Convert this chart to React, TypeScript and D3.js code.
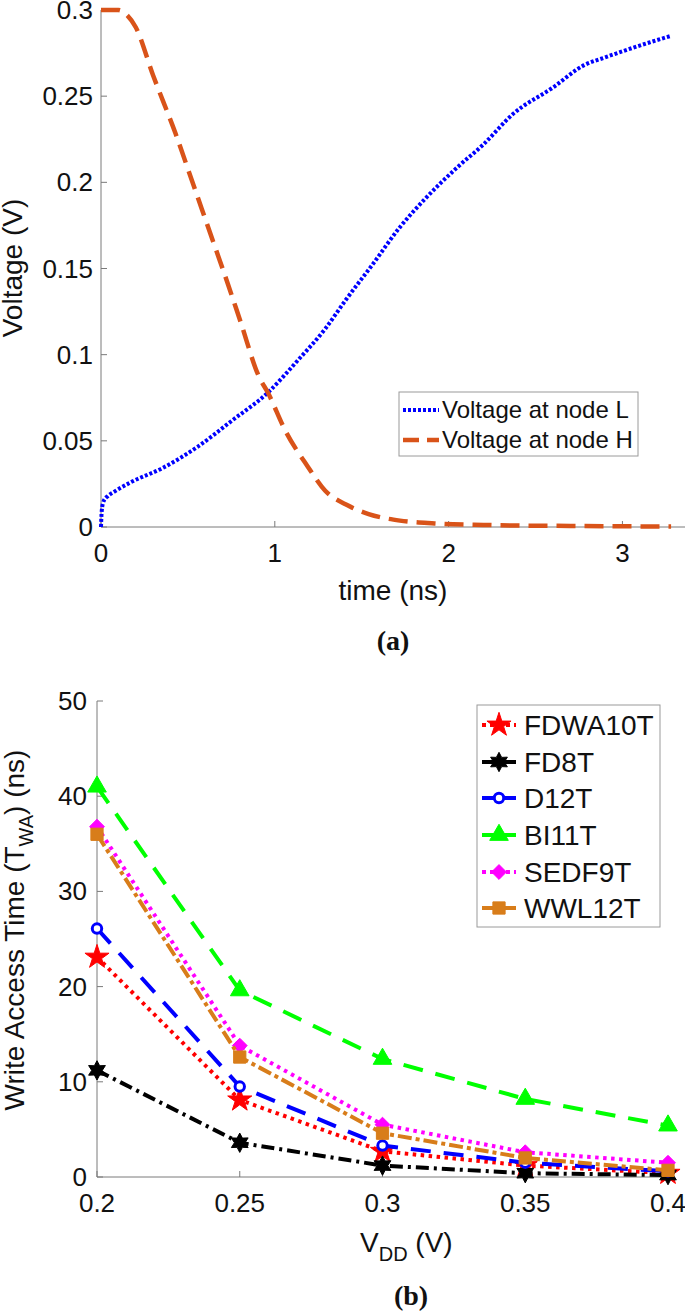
import React from "react";
import * as d3 from "d3";

// ---------- Chart (a) data ----------
const timeTicks = [0, 1, 2, 3];
const voltTicks = [0, 0.05, 0.1, 0.15, 0.2, 0.25, 0.3];
const voltTickLabels = ["0", "0.05", "0.1", "0.15", "0.2", "0.25", "0.3"];
const timeL = [0, 0.004, 0.015, 0.04, 0.075, 0.176, 0.35, 0.555, 0.757, 0.96, 1.135, 1.29, 1.41, 1.56, 1.72, 1.87, 2.05, 2.2, 2.37, 2.6, 2.78, 2.9, 3.0, 3.15, 3.28];
const voltL = [0, 0.009, 0.015, 0.018, 0.0204, 0.0262, 0.034, 0.0465, 0.062, 0.078, 0.097, 0.115, 0.132, 0.152, 0.174, 0.191, 0.2087, 0.222, 0.2396, 0.255, 0.268, 0.2725, 0.276, 0.281, 0.285];
const timeH = [0, 0.1, 0.15, 0.2, 0.3, 0.43, 0.53, 0.63, 0.73, 0.8, 0.91, 0.96, 1.06, 1.19, 1.29, 1.41, 1.54, 1.72, 1.92, 2.2, 2.7, 3.28];
const voltH = [0.3, 0.3, 0.297, 0.29, 0.262, 0.228, 0.199, 0.17, 0.141, 0.12, 0.087, 0.078, 0.056, 0.035, 0.021, 0.013, 0.0075, 0.0037, 0.0021, 0.0012, 0.0006, 0.0003];
const legendA = ["Voltage at node L", "Voltage at node H"];

// ---------- Chart (b) data ----------
const vddTicks = [0.2, 0.25, 0.3, 0.35, 0.4];
const vddTickLabels = ["0.2", "0.25", "0.3", "0.35", "0.4"];
const twaTicks = [0, 10, 20, 30, 40, 50];
const seriesNames = ["FDWA10T", "FD8T", "D12T", "BI11T", "SEDF9T", "WWL12T"];
const fdwa10t = [23.1, 8.1, 2.7, 1.2, 0.4];
const fd8t = [11.2, 3.6, 1.2, 0.4, 0.2];
const d12t = [26.1, 9.5, 3.3, 1.5, 0.6];
const bi11t = [41.0, 19.6, 12.4, 8.2, 5.4];
const sedf9t = [36.8, 13.8, 5.5, 2.6, 1.5];
const wwl12t = [36.0, 12.6, 4.6, 2.0, 0.7];

const FONT = "'Liberation Sans', Arial, Helvetica, sans-serif";
const AXIS = "#7a7a7a";

// hexagram symbol
const symbolHexagram = {
  draw(ctx: any, size: number) {
    const R = Math.sqrt(size / 1.6);
    const r = R * 0.55;
    for (let i = 0; i < 12; i++) {
      const a = -Math.PI / 2 + (i * Math.PI) / 6;
      const rr = i % 2 === 0 ? R : r;
      const x = rr * Math.cos(a), y = rr * Math.sin(a);
      if (i === 0) ctx.moveTo(x, y); else ctx.lineTo(x, y);
    }
    ctx.closePath();
  },
};

const styles = [
  { name: seriesNames[0], data: fdwa10t, color: "#FF0000", dash: "3.5,4.5", legDash: "4,4", sym: d3.symbolStar, size: 180, hollow: false },
  { name: seriesNames[1], data: fd8t, color: "#000000", dash: "13,5,3,5", legDash: "none", sym: symbolHexagram, size: 150, hollow: false },
  { name: seriesNames[2], data: d12t, color: "#0000FF", dash: "20,13", legDash: "none", sym: d3.symbolCircle, size: 70, hollow: true },
  { name: seriesNames[3], data: bi11t, color: "#00FF00", dash: "20,13", legDash: "none", sym: d3.symbolTriangle, size: 150, hollow: false },
  { name: seriesNames[4], data: sedf9t, color: "#FF00FF", dash: "3.5,4.5", legDash: "4,4", sym: d3.symbolDiamond2, size: 140, hollow: false },
  { name: seriesNames[5], data: wwl12t, color: "#D87D1A", dash: "14,4,4,4", legDash: "none", sym: d3.symbolSquare, size: 150, hollow: false },
];

function ChartA() {
  const x = d3.scaleLinear().domain([0, 3.36]).range([101, 685]);
  const y = d3.scaleLinear().domain([0, 0.3]).range([527, 10]);
  const line = d3.line<[number, number]>().x((d) => x(d[0])).y((d) => y(d[1])).curve(d3.curveMonotoneX);
  const dL = line(timeL.map((t, i) => [t, voltL[i]]) as [number, number][]) || "";
  const dH = line(timeH.map((t, i) => [t, voltH[i]]) as [number, number][]) || "";
  return (
    <g>
      <line x1={x(0)} x2={x(0)} y1={y(0.3)} y2={y(0)} stroke={AXIS} strokeWidth={1} />
      <line x1={x(0)} x2={685} y1={y(0)} y2={y(0)} stroke={AXIS} strokeWidth={1} />
      {voltTicks.map((v, i) => (
        <g key={"yt" + i}>
          <line x1={x(0)} x2={x(0) + 6} y1={y(v)} y2={y(v)} stroke={AXIS} />
          <text x={93} y={y(v) + 9} textAnchor="end" fontSize={26} fontFamily={FONT} fill="#111">{voltTickLabels[i]}</text>
        </g>
      ))}
      {timeTicks.map((t, i) => (
        <g key={"xt" + i}>
          <line x1={x(t)} x2={x(t)} y1={y(0)} y2={y(0) - 6} stroke={AXIS} />
          <text x={x(t)} y={562} textAnchor="middle" fontSize={26} fontFamily={FONT} fill="#111">{String(t)}</text>
        </g>
      ))}
      <text x={393} y={600} textAnchor="middle" fontSize={28} fontFamily={FONT} fill="#111">time (ns)</text>
      <text transform={`translate(22,268) rotate(-90)`} textAnchor="middle" fontSize={28} fontFamily={FONT} fill="#111">Voltage (V)</text>
      <path d={dL} fill="none" stroke="#0000FF" strokeWidth={4} strokeDasharray="3,2" />
      <path d={dH} fill="none" stroke="#D95319" strokeWidth={4.5} strokeDasharray="19,9" />
      <rect x={399} y={392} width={239} height={64} fill="#fff" stroke="#9a9a9a" strokeWidth={1} />
      <line x1={403} x2={439} y1={410} y2={410} stroke="#0000FF" strokeWidth={4} strokeDasharray="3,2" />
      <line x1={403} x2={439} y1={440} y2={440} stroke="#D95319" strokeWidth={4.5} strokeDasharray="16,8" />
      <text x={442} y={418} fontSize={24} fontFamily={FONT} fill="#111">{legendA[0]}</text>
      <text x={442} y={448} fontSize={24} fontFamily={FONT} fill="#111">{legendA[1]}</text>
      <text x={393} y={650} textAnchor="middle" fontSize={28} fontWeight="bold" fontFamily="'Liberation Serif', 'Times New Roman', serif" fill="#111">(a)</text>
    </g>
  );
}

function Marker({ s, cx, cy }: { s: any; cx: number; cy: number }) {
  const p = d3.symbol().type(s.sym).size(s.size)() || "";
  return (
    <path
      d={p}
      transform={`translate(${cx},${cy})`}
      fill={s.hollow ? "#fff" : s.color}
      stroke={s.color}
      strokeWidth={s.hollow ? 3 : 1}
    />
  );
}

function ChartB() {
  const x = d3.scaleLinear().domain([0.2, 0.4]).range([97, 668]);
  const y = d3.scaleLinear().domain([0, 50]).range([1177, 701]);
  const line = d3.line<number>().x((_, i) => x(vddTicks[i])).y((d) => y(d));
  const rowY = [725, 762, 798, 835, 872, 908];
  return (
    <g>
      <line x1={x(0.2)} x2={x(0.2)} y1={y(50)} y2={y(0)} stroke={AXIS} />
      <line x1={x(0.2)} x2={x(0.4)} y1={y(0)} y2={y(0)} stroke={AXIS} />
      {twaTicks.map((v, i) => (
        <g key={"yt" + i}>
          <line x1={x(0.2)} x2={x(0.2) + 6} y1={y(v)} y2={y(v)} stroke={AXIS} />
          <text x={87} y={y(v) + 9} textAnchor="end" fontSize={26} fontFamily={FONT} fill="#111">{String(v)}</text>
        </g>
      ))}
      {vddTicks.map((t, i) => (
        <g key={"xt" + i}>
          <line x1={x(t)} x2={x(t)} y1={y(0)} y2={y(0) - 6} stroke={AXIS} />
          <text x={x(t)} y={1212} textAnchor="middle" fontSize={26} fontFamily={FONT} fill="#111">{vddTickLabels[i]}</text>
        </g>
      ))}
      <text x={360} y={1252} fontSize={28} fontFamily={FONT} fill="#111">
        V<tspan fontSize={20} dy={9}>DD</tspan><tspan dy={-9}> (V)</tspan>
      </text>
      <text transform={`translate(24,930) rotate(-90)`} textAnchor="middle" fontSize={28} fontFamily={FONT} fill="#111">
        Write Access Time (T<tspan fontSize={20} dy={9}>WA</tspan><tspan dy={-9}>) (ns)</tspan>
      </text>
      {styles.map((s, k) => (
        <g key={"s" + k}>
          <path d={line(s.data) || ""} fill="none" stroke={s.color} strokeWidth={4} strokeDasharray={s.dash} />
          {s.data.map((v, i) => (
            <Marker key={i} s={s} cx={x(vddTicks[i])} cy={y(v)} />
          ))}
        </g>
      ))}
      <rect x={477} y={705} width={183} height={222} fill="#fff" stroke="#9a9a9a" />
      {styles.map((s, k) => (
        <g key={"l" + k}>
          <line x1={482} x2={516} y1={rowY[k]} y2={rowY[k]} stroke={s.color} strokeWidth={4} strokeDasharray={s.legDash} />
          <Marker s={s} cx={499} cy={rowY[k]} />
          <text x={524} y={rowY[k] + 10} fontSize={28} fontFamily={FONT} fill="#111">{s.name}</text>
        </g>
      ))}
      <text x={411} y={1305} textAnchor="middle" fontSize={28} fontWeight="bold" fontFamily="'Liberation Serif', 'Times New Roman', serif" fill="#111">(b)</text>
    </g>
  );
}

export default function App() {
  return (
    <svg width={685} height={1314} style={{ position: "absolute", left: 0, top: 0, background: "#fff" }}>
      <rect width={685} height={1314} fill="#fff" />
      <ChartA />
      <ChartB />
    </svg>
  );
}
